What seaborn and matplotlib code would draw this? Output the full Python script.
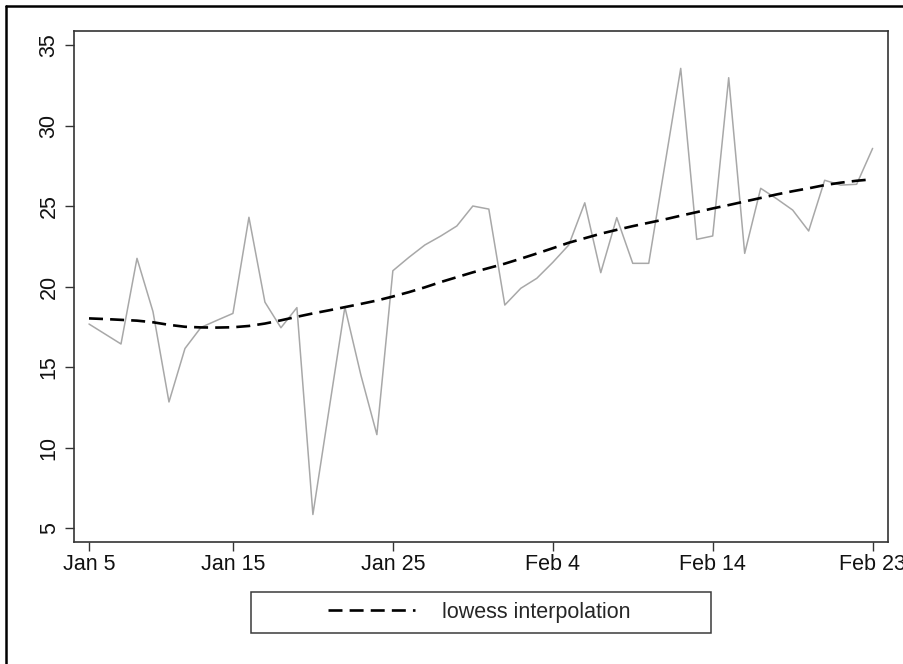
import numpy as np
import pandas as pd
import matplotlib
matplotlib.use("Agg")
import matplotlib.pyplot as plt
import seaborn as sns
from matplotlib.lines import Line2D
from matplotlib.patches import Rectangle

sns.set_theme(style="white")
plt.rcParams['font.family'] = ['Liberation Sans', 'DejaVu Sans']

observed = [17.67, 17.05, 16.43, 21.75, 18.44, 12.83, 16.15, 17.46, 17.90, 18.33,
            24.30, 19.03, 17.44, 18.69, 5.84, 12.30, 18.72, 14.50, 10.80, 20.98,
            21.81, 22.58, 23.14, 23.76, 25.00, 24.81, 18.85, 19.89, 20.51, 21.50,
            22.58, 25.20, 20.86, 24.28, 21.44, 21.44, 27.50, 33.55, 22.93, 23.14,
            32.97, 22.06, 26.10, 25.45, 24.75, 23.45, 26.60, 26.30, 26.35, 28.58]
lowess = [18.02, 17.98, 17.93, 17.88, 17.78, 17.62, 17.50, 17.46, 17.45, 17.47,
          17.55, 17.70, 17.90, 18.12, 18.33, 18.52, 18.72, 18.92, 19.13, 19.38,
          19.65, 19.95, 20.28, 20.58, 20.88, 21.15, 21.42, 21.73, 22.05, 22.38,
          22.72, 23.00, 23.28, 23.52, 23.75, 23.96, 24.17, 24.40, 24.62, 24.85,
          25.06, 25.28, 25.50, 25.72, 25.92, 26.10, 26.30, 26.45, 26.57, 26.66]
tick_obs = [0, 9, 19, 29, 39, 49]
tick_labels = ['Jan 5', 'Jan 15', 'Jan 25', 'Feb 4', 'Feb 14', 'Feb 23']
y_ticks = [5, 10, 15, 20, 25, 30, 35]

df = pd.DataFrame({'t': np.arange(len(observed)), 'obs': observed, 'lowess': lowess})

dash = (0, (5.3, 2.7))

fig = plt.figure(figsize=(9.04, 6.64), dpi=100)
ax = fig.add_axes([74.3 / 904, 1 - 541.7 / 664, (888.3 - 74.3) / 904, (541.7 - 30.7) / 664])

sns.lineplot(data=df, x='t', y='obs', ax=ax, color='#a8a8a8', linewidth=1.1)
sns.lineplot(data=df, x='t', y='lowess', ax=ax, color='black', linewidth=1.9, linestyle=dash)

ax.set_xlim(-0.92, 49.98)
ax.set_ylim(4.15, 35.89)
ax.set_xticks(tick_obs)
ax.set_xticklabels(tick_labels)
ax.set_yticks(y_ticks)
ax.set_yticklabels([str(v) for v in y_ticks], rotation=90, va='center')
ax.set_xlabel('')
ax.set_ylabel('')

for s in ax.spines.values():
    s.set_color('#333333')
    s.set_linewidth(1.2)
ax.tick_params(axis='both', which='major', direction='out', length=6.5, width=1.0,
               color='#333333', labelsize=15.5, labelcolor='#111111')
ax.tick_params(axis='x', bottom=True, top=False, pad=2.5)
ax.tick_params(axis='y', left=True, right=False, pad=4)

# legend box below the plot
box = Rectangle((251 / 904, 1 - 633.3 / 664), 459.7 / 904, 41.6 / 664, transform=fig.transFigure,
                fill=False, edgecolor='#3a3a3a', linewidth=1.1)
fig.patches.append(box)
handle = Line2D([], [], color='black', linewidth=1.9, linestyle=dash)
fig.legend([handle], ['lowess interpolation'], loc='center',
           bbox_to_anchor=(479 / 904, 1 - 612.5 / 664), frameon=False,
           fontsize=15.5, handlelength=4.05, handletextpad=1.25)

# outer border (cropped screenshot frame)
fig.add_artist(Line2D([6 / 904, 6 / 904], [0, 1 - 6 / 664], transform=fig.transFigure,
                      color='black', linewidth=1.8))
fig.add_artist(Line2D([6 / 904, 1], [1 - 6 / 664, 1 - 6 / 664], transform=fig.transFigure,
                      color='black', linewidth=1.8))

fig.savefig('out.png', dpi=100)
